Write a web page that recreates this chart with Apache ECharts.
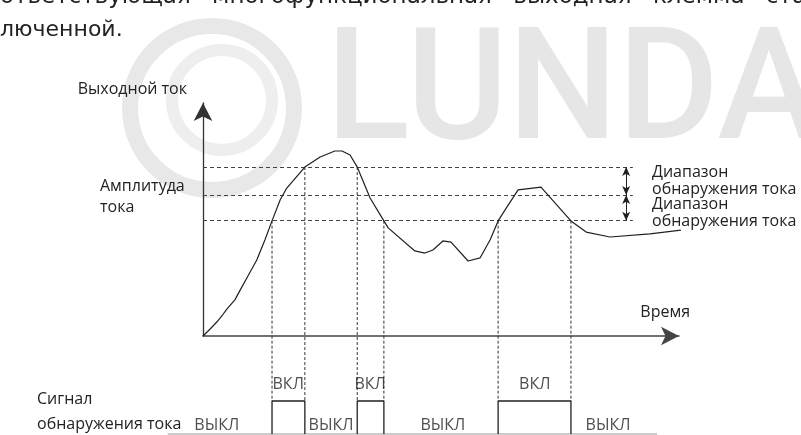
<!DOCTYPE html>
<html><head><meta charset="utf-8">
<script src="https://cdn.jsdelivr.net/npm/echarts@6/dist/echarts.min.js"></script>
<style>html,body{margin:0;padding:0;background:#fff}#c{width:801px;height:435px}</style>
</head><body><div id="c"></div>
<script>
// ---------- data ----------
const curveTime    = [0, 1.5, 2.9, 4.0, 5.0, 6.7, 7.8, 9.5, 11.3, 13.0, 14.5, 16.2, 17.6, 21.4, 24.6, 27.7, 29.2, 30.9, 32.4, 35.1, 38.0, 38.9, 44.5, 46.6, 48.3, 50.4, 52.1, 55.7, 58.2, 60.3, 62.0, 63.7, 66.2, 71.0, 77.3, 80.5, 85.5, 93.9, 104.4];
const curveCurrent = [0, 3.0, 6.0, 8.7, 11.5, 15.5, 19.7, 26.0, 32.6, 41.2, 49.4, 58.4, 63.5, 72.5, 76.8, 79.4, 79.4, 77.7, 72.5, 59.2, 49.4, 46.4, 36.5, 35.6, 36.9, 40.8, 40.3, 32.2, 33.5, 41.2, 49.4, 54.9, 62.7, 63.9, 49.4, 44.6, 42.5, 43.8, 46.4];
const thresholds   = [72.5, 60.5, 49.5];
const thresholdEnd = 90.3;
const rangeArrowTime = 88.9;
const switchTimes  = [14.5, 21.4, 32.4, 38.0, 62.0, 77.3];
const switchLevels = [49.5, 72.5, 72.5, 49.5, 49.5, 49.5];
const pulsesOn     = [[14.5, 21.4], [32.4, 38.0], [62.0, 77.3]];
const signalSpan   = [-7.4, 95.4];
const onLabelTimes  = [17.9, 35.1, 69.7];
const offLabelTimes = [2.9, 26.9, 50.4, 85.1];
const onText = 'ВКЛ', offText = 'ВЫКЛ';
const headWords = ['соответствующая', 'многофункциональная', 'выходная', 'клемма', 'ста'];
const headLine2 = 'люченной.';

// ---------- layout ----------
const OX = 203, OY = 336, XEND = 679, YEND = 103;
const PULSE_HIGH_Y = 401, PULSE_LOW_Y = 434;
const XMIN = 0, XMAX = 100, YMIN = 0, YMAX = 100;
const pxPerX = (XEND - OX) / (XMAX - XMIN);
const pxPerY = (OY - YEND) / (YMAX - YMIN);
const SIG_XMIN = -8;
const pulseTopLevel = -(PULSE_HIGH_Y - OY) / pxPerY; // level of pulse top in main-chart units

const FONT = 'Open Sans';
const FS = 16;
const INK = '#231f20';
const TXT = '#222';
const HEAD_FONT = '"DejaVu Sans"', HEAD_FS = 23;

// spread the (cut-off) first paragraph line across the page width, word by word
const mctx = document.createElement('canvas').getContext('2d');
mctx.font = HEAD_FS + 'px ' + HEAD_FONT;
const wW = headWords.map(w => mctx.measureText(w).width);
const headStart = -mctx.measureText('со').width;
const headEnd = 806;
const headGap = (headEnd - headStart - wW.reduce((a, b) => a + b, 0)) / (headWords.length - 1);
const headWordX = [];
{ let x = headStart; wW.forEach(w => { headWordX.push(x); x += w + headGap; }); }

const chart = echarts.init(document.getElementById('c'), null, {renderer: 'canvas'});

const hidden = {axisTick: {show: false}, axisLabel: {show: false}, splitLine: {show: false}};
const series = [];

// main curve
series.push({
  type: 'line', xAxisIndex: 0, yAxisIndex: 0, clip: false, symbol: 'none', smooth: false,
  lineStyle: {color: INK, width: 1.2}, data: curveTime.map((t, i) => [t, curveCurrent[i]]),
  z: 5,
  markLine: {
    silent: true, symbol: 'none', label: {show: false},
    lineStyle: {color: '#444', type: [4, 3], width: 1},
    data: thresholds.map(v => [{coord: [XMIN, v]}, {coord: [thresholdEnd, v]}])
  }
});
// range arrows
series.push({
  type: 'line', xAxisIndex: 0, yAxisIndex: 0, data: [], symbol: 'none',
  markLine: {
    silent: true, symbol: ['arrow', 'arrow'], symbolSize: [6, 9], label: {show: false},
    lineStyle: {color: INK, type: 'solid', width: 1},
    data: [[{coord: [rangeArrowTime, thresholds[0]]}, {coord: [rangeArrowTime, thresholds[1]]}],
           [{coord: [rangeArrowTime, thresholds[1]]}, {coord: [rangeArrowTime, thresholds[2]]}]]
  }
});
// vertical dashed switch lines
switchTimes.forEach((t, i) => {
  series.push({
    type: 'line', xAxisIndex: 0, yAxisIndex: 0, clip: false, symbol: 'none',
    lineStyle: {color: '#333', type: [3, 2], width: 1},
    data: [[t, switchLevels[i]], [t, pulseTopLevel]]
  });
});
// signal baseline
series.push({
  type: 'line', xAxisIndex: 1, yAxisIndex: 1, clip: false, symbol: 'none',
  lineStyle: {color: '#999', width: 1.2}, data: [[signalSpan[0], 0], [signalSpan[1], 0]]
});
// pulses
pulsesOn.forEach(p => {
  series.push({
    type: 'line', xAxisIndex: 1, yAxisIndex: 1, clip: false, symbol: 'none',
    lineStyle: {color: INK, width: 1.3},
    data: [[p[0], 0], [p[0], 1], [p[1], 1], [p[1], 0]]
  });
});
// pulse labels
series.push({
  type: 'scatter', xAxisIndex: 1, yAxisIndex: 1, clip: false, symbolSize: 0, silent: true,
  label: {show: true, position: 'inside', formatter: p => p.name, color: TXT, fontFamily: FONT, fontSize: FS},
  data: onLabelTimes.map(t => ({name: onText, value: [t, 1.5]}))
    .concat(offLabelTimes.map(t => ({name: offText, value: [t, 0.27]})))
});

const headGraphics = headWords.map((w, i) => ({
  type: 'text', z: 1, silent: true, x: headWordX[i], y: -3,
  style: {text: w, fontFamily: 'DejaVu Sans', fontSize: HEAD_FS, fill: '#222', verticalAlign: 'middle'}
}));

const option = {
  animation: false,
  backgroundColor: '#fff',
  grid: [
    {left: OX, top: YEND, width: XEND - OX, height: OY - YEND},
    {left: OX + SIG_XMIN * pxPerX, top: PULSE_HIGH_Y, width: (XMAX - SIG_XMIN) * pxPerX, height: PULSE_LOW_Y - PULSE_HIGH_Y}
  ],
  xAxis: [
    Object.assign({type: 'value', gridIndex: 0, min: XMIN, max: XMAX,
      name: 'Время', nameLocation: 'end', nameGap: 11,
      nameTextStyle: {fontFamily: FONT, fontSize: FS, color: TXT, align: 'right', verticalAlign: 'bottom', padding: [0, 0, 16, 0]},
      axisLine: {show: true, onZero: false, symbol: ['none', 'arrow'], symbolSize: [14, 18], lineStyle: {color: '#444', width: 1.5}}}, hidden),
    Object.assign({type: 'value', gridIndex: 1, min: SIG_XMIN, max: XMAX, axisLine: {show: false}}, hidden)
  ],
  yAxis: [
    Object.assign({type: 'value', gridIndex: 0, min: YMIN, max: YMAX,
      name: 'Выходной ток', nameLocation: 'end', nameGap: 14,
      nameTextStyle: {fontFamily: FONT, fontSize: FS, color: TXT, align: 'right', verticalAlign: 'middle', padding: [0, 16, 0, 0]},
      axisLine: {show: true, onZero: false, symbol: ['none', 'arrow'], symbolSize: [14, 18], lineStyle: {color: '#333', width: 1.3}}}, hidden),
    Object.assign({type: 'value', gridIndex: 1, min: 0, max: 1, axisLine: {show: false}}, hidden)
  ],
  graphic: [
    // watermark
    {type: 'circle', z: -10, silent: true, shape: {cx: 212, cy: 108, r: 82}, style: {fill: 'none', stroke: '#e8e8e8', lineWidth: 16}},
    {type: 'circle', z: -10, silent: true, shape: {cx: 222, cy: 100, r: 50}, style: {fill: 'none', stroke: '#eeeeee', lineWidth: 12}},
    {type: 'text', z: -10, silent: true, x: 326, y: 22, style: {text: 'LUNDA', fontFamily: 'Roboto', fontWeight: 500, fontSize: 155, fill: '#e6e6e6'}},
    // top paragraph
    ...headGraphics,
    {type: 'text', z: 1, silent: true, x: 0, y: 30, style: {text: headLine2, fontFamily: 'DejaVu Sans', fontSize: 22, fill: '#222', verticalAlign: 'middle'}},
    // annotations
    {type: 'text', silent: true, x: 100, y: 176, style: {text: 'Амплитуда\nтока', fontFamily: FONT, fontSize: FS, lineHeight: 21, fill: TXT, verticalAlign: 'top'}},
    {type: 'text', silent: true, x: 652, y: 163.5, style: {text: 'Диапазон\nобнаружения тока', fontFamily: FONT, fontSize: FS, lineHeight: 17, fill: TXT, verticalAlign: 'top'}},
    {type: 'text', silent: true, x: 652, y: 195.5, style: {text: 'Диапазон\nобнаружения тока', fontFamily: FONT, fontSize: FS, lineHeight: 17, fill: TXT, verticalAlign: 'top'}},
    {type: 'text', silent: true, x: 37, y: 386.5, style: {text: 'Сигнал\nобнаружения тока', fontFamily: FONT, fontSize: FS, lineHeight: 25, fill: TXT, verticalAlign: 'top'}}
  ],
  series: series
};
chart.setOption(option);
</script>
</body></html>
